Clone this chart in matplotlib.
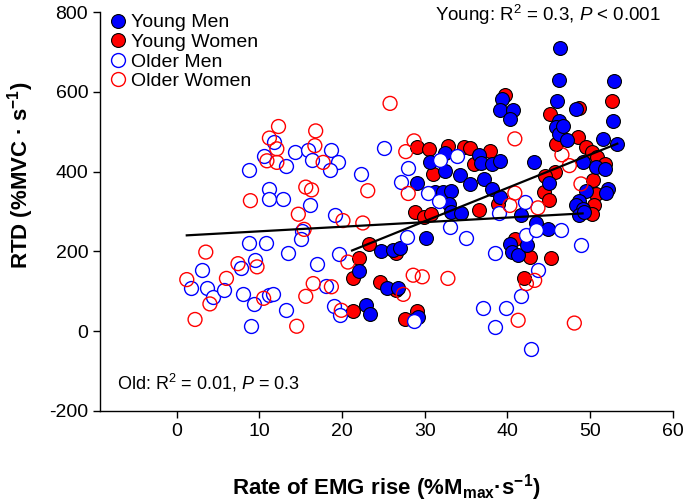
import numpy as np
import matplotlib
matplotlib.use("Agg")
import matplotlib.pyplot as plt
from matplotlib.lines import Line2D

plt.rcParams.update({
    'font.family': ['Liberation Sans', 'DejaVu Sans'],
    'mathtext.fontset': 'custom',
    'mathtext.rm': 'Liberation Sans',
    'mathtext.it': 'Liberation Sans:italic',
    'mathtext.bf': 'Liberation Sans:bold',
    'axes.unicode_minus': False,
})

BLUE = "#0000FF"; RED = "#FF0000"

# Young men (filled blue)
ym_x = [24.7, 26.1, 27.0, 22.1, 25.4, 26.8, 22.9, 23.4, 29.2, 30.2,
        30.6, 32.5, 32.4, 36.6, 36.8, 38.1, 39.1, 34.3, 35.5, 37.2,
        38.1, 39.1, 29.1, 31.2, 32.2, 33.2, 32.9, 33.2, 34.4, 39.3,
        39.1, 40.7, 40.3, 43.2, 41.7, 43.5, 44.9, 40.3, 40.5, 41.3,
        42.4, 46.4, 46.2, 52.9, 52.8, 46.0, 48.3, 46.3, 45.9, 46.2,
        47.2, 51.6, 53.3, 49.1, 50.7, 51.8, 45.0, 52.2, 51.9, 49.5,
        48.7, 48.3, 49.1, 48.7, 49.3, 46.7]
ym_y = [200, 204, 209, 151, 109, 107, 65, 42, 36, 233,
        425, 447, 402, 442, 421, 418, 426, 392, 369, 382,
        357, 336, 371, 349, 349, 352, 319, 298, 296, 582,
        554, 554, 532, 425, 290, 271, 257, 218, 198, 190,
        215, 711, 629, 628, 527, 577, 556, 528, 511, 494,
        478, 482, 469, 425, 412, 407, 371, 357, 346, 352,
        327, 315, 307, 290, 298, 515]

# Young women (filled red)
yw_x = [23.3, 22.1, 26.5, 21.3, 24.6, 26.5, 21.3, 27.6, 29.0, 28.8,
        29.9, 30.7, 29.1, 30.5, 32.8, 34.7, 35.5, 37.9, 31.0, 36.0,
        38.9, 36.6, 39.7, 40.9, 42.7, 42.0, 45.3, 52.7, 45.2, 48.7,
        45.9, 48.5, 49.5, 50.2, 50.8, 51.8, 45.7, 44.5, 44.4, 45.0,
        50.3, 50.7, 50.5, 50.2]
yw_y = [219, 182, 195, 132, 124, 103, 50, 29, 50, 298,
        287, 293, 462, 457, 465, 462, 458, 452, 395, 419,
        319, 304, 591, 232, 186, 132, 184, 578, 544, 559,
        469, 486, 461, 448, 436, 419, 398, 390, 348, 328,
        378, 344, 315, 294]

# Older men (open blue)
om_x = [11.7, 10.6, 8.7, 13.2, 14.3, 15.9, 16.4, 18.7, 19.5, 18.5,
        22.3, 25.1, 27.1, 28.0, 11.1, 11.1, 12.8, 16.1, 15.1, 15.0,
        8.7, 10.8, 13.5, 16.9, 9.4, 7.8, 3.1, 1.7, 3.6, 4.4,
        5.7, 8.0, 9.3, 11.2, 11.6, 13.2, 9.0, 18.1, 19.0, 19.7,
        19.1, 19.6, 27.8, 33.0, 35.0, 38.5, 37.1, 39.8, 38.5, 41.7,
        43.7, 42.8, 46.5, 48.9, 42.1, 39.0, 31.9, 33.9, 30.4, 31.7,
        42.2, 43.5, 28.7]
om_y = [473, 438, 404, 413, 448, 454, 429, 454, 423, 403,
        394, 458, 373, 410, 357, 330, 332, 315, 252, 232,
        221, 221, 196, 169, 177, 157, 153, 107, 107, 86,
        103, 94, 67, 90, 94, 53, 12, 112, 62, 40,
        292, 192, 237, 261, 234, 196, 57, 59, 11, 87,
        154, -46, 254, 215, 323, 296, 429, 440, 345, 327,
        240, 254, 26]

# Older women (open red)
ow_x = [12.3, 11.2, 16.8, 12.1, 10.9, 12.1, 16.7, 17.7, 8.9, 15.6,
        16.3, 14.7, 15.4, 3.5, 7.4, 9.7, 1.2, 6.0, 4.0, 10.5,
        16.5, 15.6, 2.2, 14.5, 25.8, 23.1, 20.1, 22.5, 20.7, 18.7,
        19.9, 27.7, 28.7, 28.0, 28.6, 29.7, 32.8, 40.9, 40.9, 41.3,
        48.1, 46.6, 47.5, 48.9, 40.3, 43.7, 42.3, 43.3, 27.4]
ow_y = [513, 484, 502, 457, 427, 423, 465, 423, 327, 361,
        354, 293, 255, 198, 169, 161, 129, 132, 68, 82,
        119, 87, 29, 12, 571, 352, 277, 271, 173, 111,
        52, 450, 477, 345, 140, 136, 132, 482, 346, 27,
        20, 442, 415, 369, 315, 309, 119, 127, 92]

# regression line end points
young_fit_x = [21.2, 53.3]
young_fit_y = [202, 470]
old_fit_x = [1.2, 49.1]
old_fit_y = [240, 295]

fig = plt.figure(figsize=(6.85, 5.04), dpi=100)
ax = fig.add_axes([0.146, 0.185, 0.836, 0.791])

S = 100
ax.scatter(yw_x, yw_y, s=S, c=RED, edgecolors='black', linewidths=0.8, zorder=3)
ax.scatter(ym_x, ym_y, s=S, c=BLUE, edgecolors='black', linewidths=0.8, zorder=3)
ax.scatter(om_x, om_y, s=S, facecolors='white', edgecolors=BLUE, linewidths=1.0, zorder=4)
ax.scatter(ow_x, ow_y, s=S, facecolors='none', edgecolors=RED, linewidths=1.0, zorder=4)

ax.plot(old_fit_x, old_fit_y, color='black', lw=1.6, zorder=5)
ax.plot(young_fit_x, young_fit_y, color='black', lw=1.6, zorder=5)

ax.set_xlim(-9.3, 60)
ax.set_ylim(-200, 800)
ax.set_xticks(np.arange(0, 61, 10))
ax.set_yticks(np.arange(-200, 801, 200))
for s in ['top', 'right']:
    ax.spines[s].set_visible(False)
for s in ['left', 'bottom']:
    ax.spines[s].set_linewidth(1.0)
ax.tick_params(direction='out', length=5, width=1, labelsize=14)

ax.set_xlabel('Rate of EMG rise (%M$_{\\mathbf{max}}$·s$^{\\mathbf{-1}}$)',
              fontsize=16, fontweight='bold')
ax.xaxis.set_label_coords(0.5, -0.155)
ax.set_ylabel('RTD (%MVC · s$^{\\mathbf{-1}}$)', fontsize=16, fontweight='bold')
ax.yaxis.set_label_coords(-0.112, 0.59)

ax.text(58.6, 778, 'Young: R$^{2}$ = 0.3, $\\mathit{P}$ < 0.001', ha='right',
        va='baseline', fontsize=13.5)
ax.text(-7.3, -147, 'Old: R$^{2}$ = 0.01, $\\mathit{P}$ = 0.3', ha='left',
        va='baseline', fontsize=13)

handles = [
    Line2D([], [], ls='none', marker='o', ms=10, mfc=BLUE, mec='black', mew=0.8),
    Line2D([], [], ls='none', marker='o', ms=10, mfc=RED, mec='black', mew=0.8),
    Line2D([], [], ls='none', marker='o', ms=10, mfc='white', mec=BLUE, mew=1.0),
    Line2D([], [], ls='none', marker='o', ms=10, mfc='none', mec=RED, mew=1.0),
]
labels = ['Young Men', 'Young Women', 'Older Men', 'Older Women']
ax.legend(handles, labels, loc='upper left', bbox_to_anchor=(0.0, 1.02),
          frameon=False, fontsize=14, handlelength=0.8, handletextpad=0.3,
          labelspacing=0.1, borderpad=0.2, borderaxespad=0.3)

fig.savefig("out.png", dpi=100, facecolor='white')
